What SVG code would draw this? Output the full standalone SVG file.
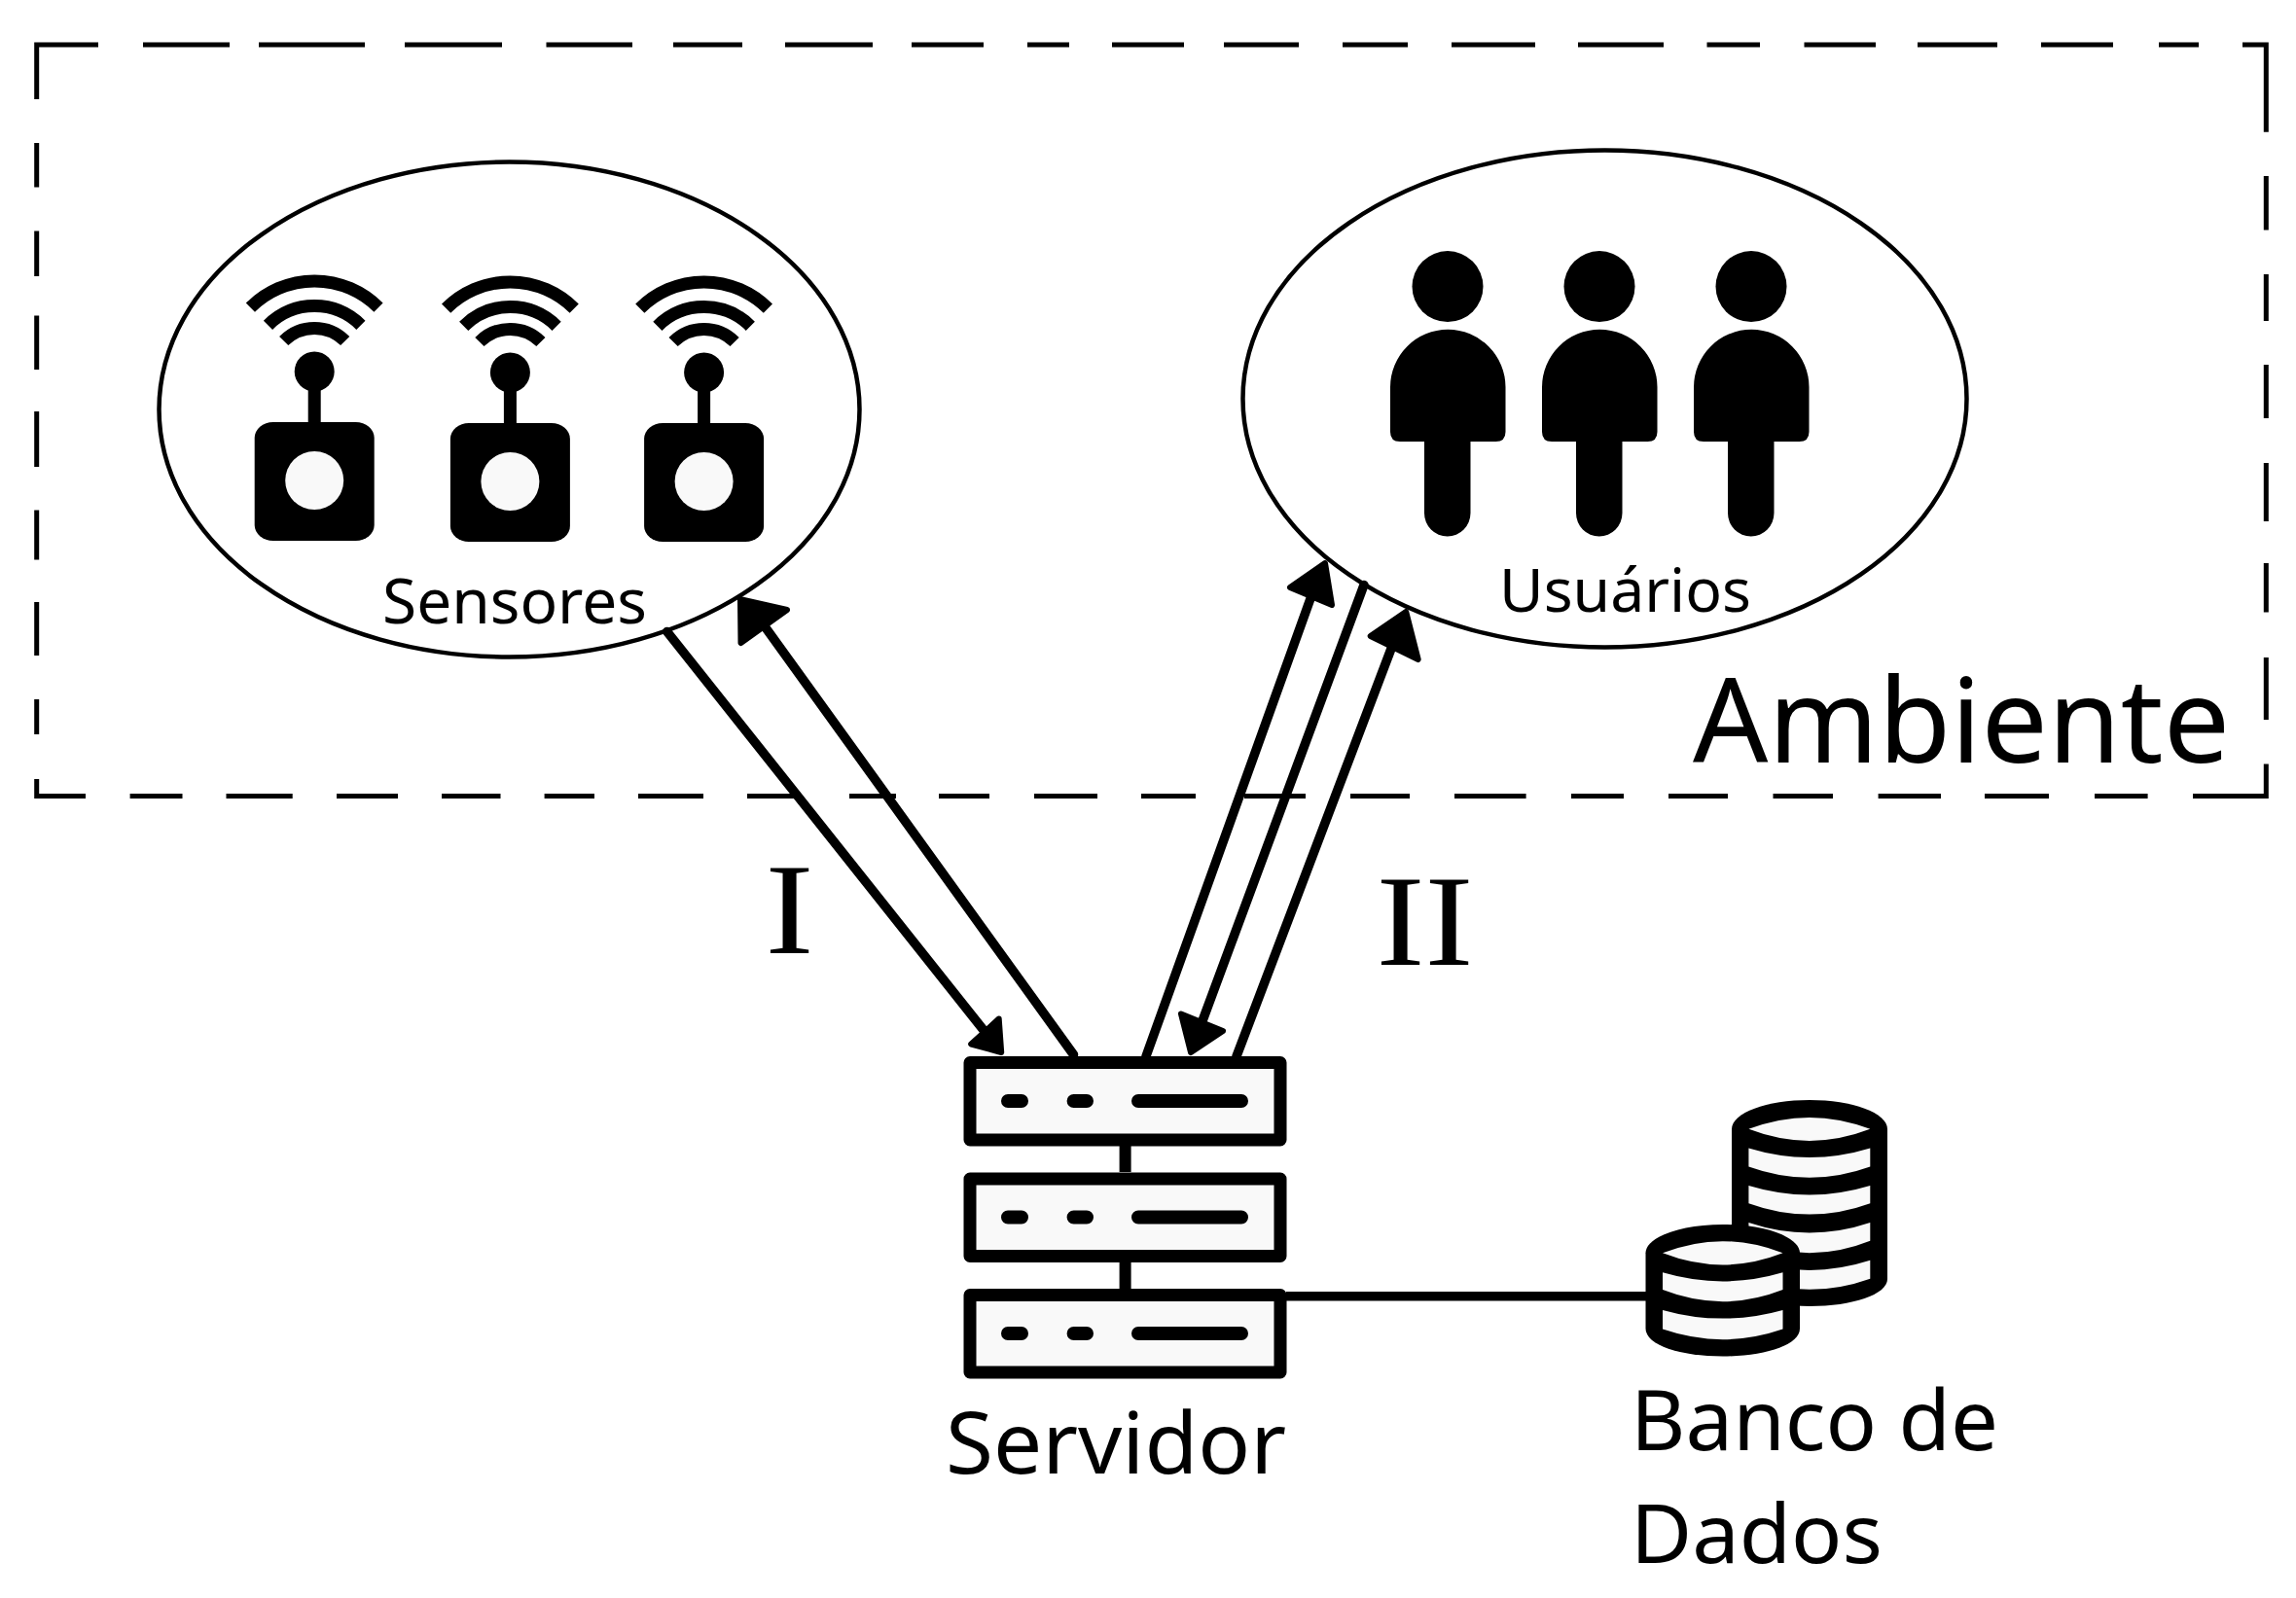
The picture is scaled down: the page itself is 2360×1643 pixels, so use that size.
<svg xmlns="http://www.w3.org/2000/svg" xmlns:xlink="http://www.w3.org/1999/xlink" width="2360" height="1643" viewBox="0 0 2360 1643">
<style>
text{font-family:"Noto Sans","Open Sans",sans-serif;fill:#000}
.roman{font-family:"Liberation Serif",serif}
.bubble{fill:#fff;stroke:#000;stroke-width:4.500}
.boundary{fill:none;stroke:#000;stroke-width:5}
.wire{fill:none;stroke:#000;stroke-width:9.500;stroke-linecap:round}
.head{fill:#000;stroke:#000;stroke-width:6;stroke-linejoin:round}
.ink{fill:#000}
.pale{fill:#f9f9f9}
.wave{fill:none;stroke:#000;stroke-width:13}
.unit{fill:#f9f9f9;stroke:#000;stroke-width:13;stroke-linejoin:round}
.led{fill:none;stroke:#000;stroke-width:14;stroke-linecap:round}
.bar{fill:none;stroke:#000;stroke-width:12}
</style>
<defs>
<marker id="h1" markerUnits="userSpaceOnUse" markerWidth="10" markerHeight="10" overflow="visible"><polygon class="head" points="17.5,22 15,-12.5 -13.5,13.5"/></marker>
<marker id="h2" markerUnits="userSpaceOnUse" markerWidth="10" markerHeight="10" overflow="visible"><polygon class="head" points="-25,-28 23,-17 -24.5,17"/></marker>
<marker id="h3" markerUnits="userSpaceOnUse" markerWidth="10" markerHeight="10" overflow="visible"><polygon class="head" points="14.5,-35 -21.5,-10 21.5,8"/></marker>
<marker id="h4" markerUnits="userSpaceOnUse" markerWidth="10" markerHeight="10" overflow="visible"><polygon class="head" points="-11.5,31 -21.5,-8.5 21.5,9"/></marker>
<marker id="h5" markerUnits="userSpaceOnUse" markerWidth="10" markerHeight="10" overflow="visible"><polygon class="head" points="14.5,-36 -22,-11 27,13"/></marker>
<g id="sensor-icon">
<path class="wave" d="M-65.8,-65.8A93,93 0 0 1 65.8,-65.8M-47.7,-47.7A67.5,67.5 0 0 1 47.7,-47.7M-31.5,-31.5A44.5,44.5 0 0 1 31.5,-31.5"/>
<circle class="ink" r="20.5"/>
<rect class="ink" x="-6.5" y="15" width="13" height="40"/>
<rect class="ink" x="-61.5" y="52" width="123" height="122" rx="19" ry="16"/>
<circle class="pale" cx="0" cy="112" r="30"/>
</g>
<g id="person-icon">
<circle class="ink" cx="0" cy="0" r="36.5"/>
<path class="ink" d="M-59,103.500A59,59 0 0 1 59.500,103.500V149.500Q59.500,159.500 49.500,159.500H23.500V233A23.750,24 0 0 1 -24,233V159.500H-49Q-59,159.500 -59,149.500Z"/>
</g>
<g id="server-unit">
<rect class="unit" x="997" y="1092.500" width="319" height="79.500"/>
<path class="led" d="M1036,1132H1050M1103.600,1132H1117M1170,1132H1276"/>
</g>
</defs>
<rect width="2360" height="1643" fill="#fff"/>
<g id="ambiente">
<path class="boundary" d="M101,46H37.700V102M147,46H236M266,46H375M416,46H516M561.500,46H650M692,46H763M807,46H897M937,46H1011M1056,46H1099M1143,46H1217M1258,46H1335M1380,46H1447M1492,46H1578M1622,46H1710M1754.500,46H1809M1854.500,46H1928M1971,46H2053M2098,46H2172M2219,46H2260M2305,46H2329.300V135.700M2329.300,181V236.500M2329.300,282V330M2329.300,375V430M2329.300,476V536M2329.300,579V629.400M2329.300,676V740M2329.300,785.600V818.400H2254M2207.600,818.400H2153M2106,818.400H2040M1995,818.400H1930.600M1884,818.400H1822.500M1776,818.400H1715M1669,818.400H1615M1568.600,818.400H1495M1449,818.400H1388M1342,818.400H1279M1229,818.400H1173M1128,818.400H1063M1017,818.400H965M921,818.400H873M822,818.400H768M723,818.400H656M611,818.400H559.600M514.500,818.400H454M409,818.400H346M300.700,818.400H232.500M187.500,818.400H133.600M88,818.400H37.700V801M37.700,755V719M37.700,674V619M37.700,575.500V524.600M37.700,480V423M37.700,380V324.600M37.700,284V237.500M37.700,192.600V147"/>
<text x="1740" y="784" font-size="121" textLength="552" lengthAdjust="spacingAndGlyphs">Ambiente</text>
</g>
<g id="sensores">
<ellipse class="bubble" cx="523.500" cy="421" rx="360" ry="254.500"/>
<use href="#sensor-icon" xlink:href="#sensor-icon" transform="translate(323.200,382)"/>
<use href="#sensor-icon" xlink:href="#sensor-icon" transform="translate(524.400,383)"/>
<use href="#sensor-icon" xlink:href="#sensor-icon" transform="translate(723.600,383)"/>
<text x="393" y="640.700" font-size="64" textLength="272" lengthAdjust="spacingAndGlyphs">Sensores</text>
</g>
<g id="usuarios">
<ellipse class="bubble" cx="1649.500" cy="410" rx="372" ry="255.500"/>
<use href="#person-icon" xlink:href="#person-icon" transform="translate(1488,294.600)"/>
<use href="#person-icon" xlink:href="#person-icon" transform="translate(1644,294.600)"/>
<use href="#person-icon" xlink:href="#person-icon" transform="translate(1800,294.600)"/>
<text x="1541" y="628.600" font-size="62" textLength="259" lengthAdjust="spacingAndGlyphs">Usuários</text>
</g>
<g id="connectors">
<line class="wire" x1="685.600" y1="649.400" x2="1011.700" y2="1060" marker-end="url(#h1)"/>
<line class="wire" x1="1103.500" y1="1084.400" x2="786" y2="644" marker-end="url(#h2)"/>
<line class="wire" x1="1178" y1="1086" x2="1347.500" y2="614" marker-end="url(#h3)"/>
<line class="wire" x1="1402" y1="601.400" x2="1235.500" y2="1051" marker-end="url(#h4)"/>
<line class="wire" x1="1271" y1="1086" x2="1430.700" y2="665" marker-end="url(#h5)"/>
<line x1="1322" y1="1332.700" x2="1695" y2="1332.700" stroke="#000" stroke-width="9.500"/>
</g>
<text id="label-i" class="roman" x="811.500" y="980" font-size="134" text-anchor="middle" textLength="50" lengthAdjust="spacingAndGlyphs">I</text>
<text id="label-ii" class="roman" x="1464.500" y="992" font-size="134" text-anchor="middle" textLength="100" lengthAdjust="spacingAndGlyphs">II</text>
<g id="servidor">
<path class="bar" d="M1156.600,1178V1205M1156.600,1297V1325"/>
<use href="#server-unit" xlink:href="#server-unit"/>
<use href="#server-unit" xlink:href="#server-unit" transform="translate(0,119.500)"/>
<use href="#server-unit" xlink:href="#server-unit" transform="translate(0,239)"/>
<text x="972" y="1514.500" font-size="88" textLength="350" lengthAdjust="spacingAndGlyphs">Servidor</text>
</g>
<g id="banco-de-dados">
<path class="ink" d="M1780,1161C1780,1144 1816,1131 1860,1131S1940,1144 1940,1161V1315C1940,1331 1904,1343 1860,1343S1780,1331 1780,1315Z"/>
<path class="pale" d="M1797.400,1160.800Q1860,1137 1922.300,1160.800Q1860,1185 1797.400,1160.800ZM1797.400,1180.500Q1860,1199.500 1922.300,1180.500V1199.400Q1860,1222 1797.400,1199.400ZM1797.400,1219Q1860,1238 1922.300,1219V1237.200Q1860,1260 1797.400,1237.200ZM1797.400,1257Q1860,1278 1922.300,1257V1275.800Q1860,1300.800 1797.400,1275.800ZM1797.400,1295.800Q1860,1316 1922.300,1295.800V1314.700Q1860,1337 1797.400,1314.700Z"/>
<path class="ink" d="M1691.500,1288.300C1691.500,1272 1727,1259 1770.800,1259S1850,1272 1850,1288.300V1366C1850,1383 1814,1394.500 1770.800,1394.500S1691.500,1383 1691.500,1366Z"/>
<path class="pale" d="M1709,1288.300Q1770.800,1264 1832.500,1288.300Q1770.800,1312.500 1709,1288.300ZM1709,1308.300Q1770.800,1326.500 1832.500,1308.300V1326.100Q1770.800,1350.300 1709,1326.100ZM1709,1346.900Q1770.800,1364.300 1832.500,1346.900V1366.600Q1770.800,1387.800 1709,1366.600Z"/>
<text x="1676" y="1490.600" font-size="86" textLength="378" lengthAdjust="spacingAndGlyphs">Banco de</text>
<text x="1676" y="1606.700" font-size="84" textLength="259" lengthAdjust="spacingAndGlyphs">Dados</text>
</g>
</svg>
